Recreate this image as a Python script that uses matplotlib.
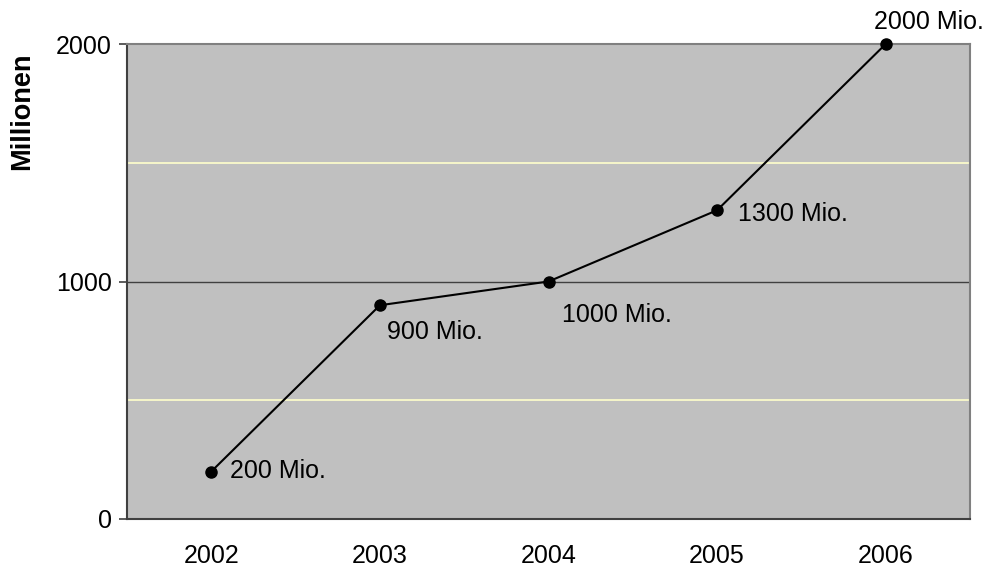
import numpy as np
import matplotlib.pyplot as plt

years = ['2002', '2003', '2004', '2005', '2006']
values = [200, 900, 1000, 1300, 2000]
labels = ['200 Mio.', '900 Mio.', '1000 Mio.', '1300 Mio.', '2000 Mio.']
# label offsets in pixels (dx, dy) and alignment per point
offsets = [(19, 0, 'left', 'center'),
           (7, -27, 'left', 'center'),
           (13, -34, 'left', 'center'),
           (21, -4, 'left', 'center'),
           (-12, 22, 'left', 'center')]

plt.rcParams['font.family'] = ['Liberation Sans', 'DejaVu Sans']

dpi = 100
fig = plt.figure(figsize=(9.87, 5.70), dpi=dpi)
ax = fig.add_axes([127/987, 1-519/570, (970-127)/987, (519-44)/570])
ax.set_facecolor('#c0c0c0')

x = np.arange(len(years))
ax.set_xlim(-0.5, len(years)-0.5)
ax.set_ylim(0, 2000)

# gridlines
ax.axhline(500, color='#ffffcc', lw=1.2, zorder=1)
ax.axhline(1500, color='#ffffcc', lw=1.2, zorder=1)
ax.axhline(1000, color='#404040', lw=1.0, zorder=1)

ax.plot(x, values, color='black', lw=1.5, marker='o', ms=8, zorder=3, clip_on=False)

pt = 72.0/dpi
for xi, v, lab, (dx, dy, ha, va) in zip(x, values, labels, offsets):
    ax.annotate(lab, (xi, v), xytext=(dx*pt, dy*pt), textcoords='offset points',
                ha=ha, va=va, fontsize=18, annotation_clip=False)

ax.set_xticks(x)
ax.set_xticklabels(years, fontsize=18)
ax.set_yticks([0, 1000, 2000])
ax.set_yticklabels(['0', '1000', '2000'], fontsize=18)
ax.tick_params(axis='x', length=0, pad=18)
ax.tick_params(axis='y', length=6, width=1.2, color='#404040', pad=5)

fig.text(22/987, 1-111/570, 'Millionen', fontsize=19.5, fontweight='bold',
         rotation=90, ha='center', va='center')

for s in ['left', 'bottom']:
    ax.spines[s].set_color('#404040')
    ax.spines[s].set_linewidth(1.5)
for s in ['top', 'right']:
    ax.spines[s].set_color('#808080')
    ax.spines[s].set_linewidth(1.5)

fig.savefig('out.png', dpi=dpi)
